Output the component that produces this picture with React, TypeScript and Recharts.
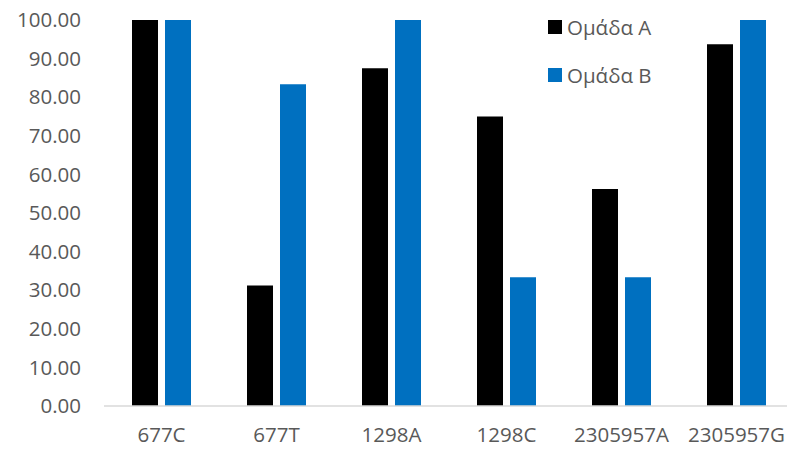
import React from "react";
import { BarChart, Bar, XAxis, YAxis, Legend } from "recharts";

const categories = ["677C", "677T", "1298A", "1298C", "2305957A", "2305957G"];
const groupA = [100, 31.25, 87.5, 75, 56.25, 93.75];
const groupB = [100, 83.33, 100, 33.33, 33.33, 100];
const yTicks = [0, 10, 20, 30, 40, 50, 60, 70, 80, 90, 100];

const SERIES = [
  { key: "a", name: "Ομάδα A", color: "#000000" },
  { key: "b", name: "Ομάδα B", color: "#0070C0" },
];

const FONT = "'Open Sans', 'Noto Sans', sans-serif";
const TEXT = "#595959";
const SIZE = 20.5;

const rows = categories.map((c, i) => ({ name: c, a: groupA[i], b: groupB[i] }));

function LegendBox() {
  return (
    <div style={{ fontFamily: FONT, fontSize: SIZE, color: TEXT }}>
      {SERIES.map((s) => (
        <div key={s.key} style={{ display: "flex", alignItems: "center", height: 48 }}>
          <span style={{ width: 14, height: 14, background: s.color, marginRight: 5 }} />
          <span>{s.name}</span>
        </div>
      ))}
    </div>
  );
}

export default function App() {
  return (
    <div style={{ position: "absolute", left: 0, top: 0, width: 787, height: 449, overflow: "hidden", background: "#fff" }}>
      <BarChart
        width={800}
        height={449}
        data={rows}
        margin={{ top: 20, right: 6, bottom: 0, left: 0 }}
        barSize={26}
        barGap={7}
      >
        <XAxis
          dataKey="name"
          height={43}
          tickLine={false}
          axisLine={{ stroke: "#D9D9D9", strokeWidth: 1.5 }}
          tickMargin={15}
          tick={{ fill: TEXT, fontSize: SIZE, fontFamily: FONT }}
          interval={0}
        />
        <YAxis
          width={104}
          domain={[0, 100]}
          ticks={yTicks}
          tickFormatter={(v: number) => v.toFixed(2)}
          tickLine={false}
          axisLine={false}
          tickMargin={17}
          tick={{ fill: TEXT, fontSize: SIZE, fontFamily: FONT }}
        />
        <Legend
          content={<LegendBox />}
          layout="vertical"
          verticalAlign="middle"
          align="center"
          wrapperStyle={{ left: 548, top: 3, width: 140 }}
        />
        {SERIES.map((s) => (
          <Bar key={s.key} dataKey={s.key} name={s.name} fill={s.color} isAnimationActive={false} />
        ))}
      </BarChart>
    </div>
  );
}
